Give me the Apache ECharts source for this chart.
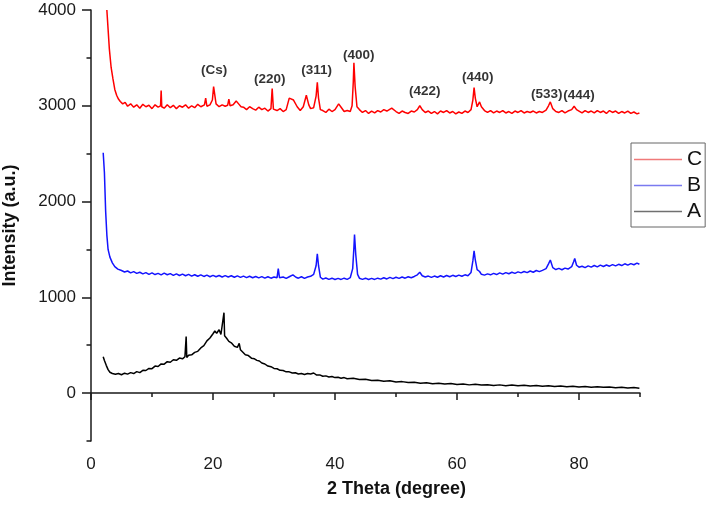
<!DOCTYPE html>
<html>
<head>
<meta charset="utf-8">
<title>XRD</title>
<script src="https://cdn.jsdelivr.net/npm/echarts@6.0.0/dist/echarts.min.js"></script>
<style>
  html, body { margin: 0; padding: 0; background: #fff; }
  #chart { width: 709px; height: 507px; }
</style>
</head>
<body>
<div id="chart"></div>
<script>
/* XRD patterns, values: [2theta, intensity] */

var sampleC = [
    [2.6,4000],[2.8,3800],[3.0,3600],[3.3,3400],[3.6,3280],[3.9,3170],[4.2,3110],[4.5,3070],[4.8,3045],[5.2,3020],
    [5.6,3035],[6.0,2995],[6.5,3020],[7.0,2985],[7.5,3010],[8.0,2975],[8.5,3015],[9.0,2990],[9.5,3005],[10.0,2970],
    [10.5,3010],[11.0,2985],[11.4,3000],[11.5,3160],[11.6,2990],[12.0,2975],[12.5,3010],[13.0,2980],[13.5,3005],[14.0,2970],
    [14.5,3000],[15.0,2985],[15.5,3010],[16.0,2975],[16.5,3000],[17.0,2980],[17.5,3015],[18.0,2990],[18.6,3010],[18.8,3080],
    [19.0,2995],[19.5,3010],[19.9,3060],[20.1,3200],[20.3,3180],[20.5,3020],[21.0,2990],[21.5,3010],[22.0,2995],[22.4,3005],
    [22.6,3070],[22.8,3000],[23.3,3010],[23.8,3050],[24.2,3020],[24.6,2990],[25.0,2985],[25.5,2960],[26.0,2990],[26.5,2970],
    [27.0,2955],[27.5,2985],[28.0,2960],[28.5,2975],[29.0,2945],[29.5,2970],[29.7,3180],[29.9,2965],[30.5,2950],[31.0,2970],
    [31.5,2940],[32.0,2960],[32.5,3080],[32.8,3100],[33.2,3060],[33.8,2990],[34.3,2950],[34.8,2990],[35.3,3110],[35.7,3010],
    [36.0,2970],[36.5,2980],[36.9,3100],[37.1,3245],[37.3,3080],[37.6,2960],[38.0,2950],[38.5,2930],[39.0,2965],[39.5,2940],
    [40.0,2960],[40.6,3020],[41.0,2985],[41.5,2940],[42.0,2950],[42.5,2940],[42.8,3000],[43.0,3250],[43.1,3450],[43.3,3200],
    [43.6,2990],[44.0,2960],[44.5,2930],[45.0,2950],[45.5,2920],[46.0,2945],[46.5,2925],[47.0,2950],[47.5,2935],[48.0,2960],
    [48.5,2945],[49.3,2975],[50.0,2940],[50.5,2920],[51.0,2945],[51.5,2930],[52.0,2920],[52.5,2945],[53.0,2935],[53.5,2960],
    [53.9,3000],[54.3,2960],[54.8,2930],[55.3,2945],[55.8,2920],[56.3,2940],[56.8,2915],[57.3,2945],[57.8,2930],[58.3,2950],
    [58.8,2925],[59.3,2940],[59.8,2915],[60.3,2935],[60.8,2920],[61.3,2945],[61.8,2930],[62.3,2960],[62.6,3060],[62.8,3190],
    [63.0,3080],[63.3,2990],[63.7,3040],[64.0,2990],[64.5,2950],[65.0,2930],[65.5,2950],[66.0,2925],[66.5,2945],[67.0,2930],
    [67.5,2950],[68.0,2925],[68.5,2940],[69.0,2920],[69.5,2945],[70.0,2930],[70.5,2950],[71.0,2925],[71.5,2940],[72.0,2930],
    [72.5,2945],[73.0,2925],[73.5,2940],[74.0,2930],[74.6,2955],[75.0,3000],[75.3,3040],[75.7,2970],[76.2,2940],[76.7,2930],
    [77.2,2950],[77.7,2925],[78.2,2945],[78.8,2960],[79.2,2995],[79.6,2960],[80.0,2945],[80.5,2925],[81.0,2950],[81.5,2930],
    [82.0,2945],[82.5,2925],[83.0,2950],[83.5,2930],[84.0,2945],[84.5,2920],[85.0,2950],[85.5,2930],[86.0,2945],[86.5,2920],
    [87.0,2940],[87.5,2925],[88.0,2945],[88.5,2920],[89.0,2935],[89.5,2915],[89.9,2925]
];

var sampleB = [
    [2.0,2510],[2.2,2300],[2.4,1900],[2.6,1650],[2.8,1500],[3.1,1420],[3.5,1360],[3.9,1320],[4.4,1295],[5.0,1280],
    [5.5,1265],[6.0,1275],[6.5,1255],[7.0,1268],[7.5,1250],[8.0,1262],[8.5,1245],[9.0,1258],[9.5,1240],[10.0,1255],
    [10.5,1238],[11.0,1250],[11.5,1235],[12.0,1252],[12.5,1236],[13.0,1248],[13.5,1230],[14.0,1245],[14.5,1228],[15.0,1242],
    [15.5,1225],[16.0,1240],[16.5,1222],[17.0,1236],[17.5,1220],[18.0,1235],[18.5,1218],[19.0,1232],[19.5,1215],[20.0,1230],
    [20.5,1215],[21.0,1228],[21.5,1212],[22.0,1226],[22.5,1212],[23.0,1225],[23.5,1210],[24.0,1224],[24.5,1208],[25.0,1222],
    [25.5,1206],[26.0,1220],[26.5,1205],[27.0,1218],[27.5,1203],[28.0,1216],[28.5,1200],[29.0,1215],[29.5,1200],[30.0,1212],
    [30.5,1205],[30.7,1300],[30.9,1205],[31.5,1212],[32.0,1198],[32.5,1215],[33.1,1235],[33.6,1210],[34.0,1200],[34.5,1215],
    [35.0,1198],[35.5,1212],[36.0,1220],[36.5,1240],[36.9,1330],[37.1,1455],[37.3,1330],[37.6,1210],[38.0,1190],[38.5,1202],
    [39.0,1188],[39.5,1200],[40.0,1186],[40.5,1198],[41.0,1187],[41.5,1200],[42.0,1188],[42.5,1205],[42.9,1300],[43.1,1520],
    [43.2,1655],[43.4,1450],[43.7,1240],[44.0,1200],[44.5,1188],[45.0,1200],[45.5,1186],[46.0,1198],[46.5,1187],[47.0,1200],
    [47.5,1190],[48.0,1205],[48.5,1192],[49.0,1208],[49.5,1195],[50.0,1210],[50.5,1198],[51.0,1212],[51.5,1200],[52.0,1215],
    [52.5,1205],[53.0,1218],[53.5,1235],[53.9,1262],[54.3,1225],[54.8,1212],[55.3,1222],[55.8,1208],[56.3,1222],[56.8,1210],
    [57.3,1225],[57.8,1212],[58.3,1228],[58.8,1215],[59.3,1230],[59.8,1218],[60.3,1232],[60.8,1220],[61.3,1235],[61.8,1225],
    [62.3,1260],[62.6,1380],[62.8,1485],[63.0,1390],[63.3,1290],[63.7,1270],[64.0,1240],[64.5,1232],[65.0,1245],[65.5,1235],
    [66.0,1250],[66.5,1238],[67.0,1255],[67.5,1242],[68.0,1258],[68.5,1246],[69.0,1262],[69.5,1250],[70.0,1266],[70.5,1255],
    [71.0,1270],[71.5,1258],[72.0,1275],[72.5,1262],[73.0,1280],[73.5,1268],[74.0,1282],[74.6,1300],[75.0,1350],[75.3,1390],
    [75.7,1310],[76.2,1290],[76.7,1302],[77.2,1288],[77.7,1305],[78.2,1295],[78.8,1320],[79.1,1370],[79.3,1405],[79.6,1335],
    [80.0,1315],[80.5,1325],[81.0,1310],[81.5,1328],[82.0,1315],[82.5,1332],[83.0,1318],[83.5,1336],[84.0,1322],[84.5,1338],
    [85.0,1325],[85.5,1342],[86.0,1328],[86.5,1345],[87.0,1332],[87.5,1350],[88.0,1336],[88.5,1352],[89.0,1340],[89.5,1358],
    [89.9,1345]
];

var sampleA = [
    [2.0,380],[2.2,340],[2.5,290],[2.8,245],[3.1,218],[3.5,205],[4.0,196],[4.5,205],[5.0,192],[5.5,208],
    [6.0,198],[6.5,214],[7.0,204],[7.5,224],[8.0,214],[8.5,238],[9.0,236],[9.5,258],[10.0,255],[10.5,282],
    [11.0,278],[11.5,305],[12.0,302],[12.5,328],[13.0,322],[13.5,348],[14.0,342],[14.5,366],[15.0,358],[15.4,380],
    [15.6,590],[15.7,372],[16.0,395],[16.5,400],[17.0,425],[17.5,436],[18.0,472],[18.5,495],[19.0,545],[19.5,575],
    [20.0,620],[20.3,648],[20.6,625],[21.0,662],[21.3,612],[21.6,605],[21.8,840],[21.9,598],[22.2,575],[22.6,540],
    [23.0,525],[23.5,490],[24.0,478],[24.3,520],[24.5,452],[24.8,438],[25.3,400],[25.8,392],[26.3,365],[26.8,358],
    [27.0,378],[27.2,342],[27.6,335],[28.0,314],[28.5,304],[29.0,282],[29.5,276],[30.0,258],[30.5,254],[31.0,238],
    [31.5,236],[32.0,222],[32.5,222],[33.0,210],[33.5,212],[34.0,200],[34.5,204],[35.0,194],[35.5,204],[36.0,200],
    [36.5,210],[37.0,188],[37.5,190],[38.0,176],[38.5,180],[39.0,168],[39.5,174],[40.0,162],[40.5,166],[41.0,156],
    [41.5,162],[42.0,150],[43.0,154],[44.0,142],[45.0,144],[46.0,132],[47.0,134],[48.0,124],[49.0,128],[50.0,116],
    [51.0,120],[52.0,110],[53.0,114],[54.0,104],[55.0,108],[56.0,98],[57.0,104],[58.0,94],[59.0,100],[60.0,90],
    [61.0,96],[62.0,86],[63.0,92],[64.0,84],[65.0,88],[66.0,80],[67.0,86],[68.0,78],[69.0,84],[70.0,76],
    [71.0,82],[72.0,74],[73.0,80],[74.0,72],[75.0,76],[76.0,68],[77.0,74],[78.0,66],[79.0,72],[80.0,64],
    [81.0,70],[82.0,62],[83.0,66],[84.0,60],[85.0,64],[86.0,56],[87.0,62],[88.0,54],[89.0,58],[89.9,52]
];

// peak labels over curve C
var peakNames = ['(Cs)', '(220)', '(311)', '(400)', '(422)', '(440)', '(533)', '(444)'];
var peakX = [20.2, 29.3, 37.0, 43.9, 54.7, 63.4, 74.7, 80.0];
var peakY = [3370, 3280, 3375, 3525, 3150, 3300, 3125, 3105];

var xMajor = [0, 20, 40, 60, 80];
var xMinor = [10, 30, 50, 70, 90];
var yMajor = [0, 1000, 2000, 3000, 4000];
var yMinor = [-500, 500, 1500, 2500, 3500];

var FONT = '"Liberation Sans", Arial, Helvetica, sans-serif';
var AXIS_COLOR = '#1a1a1a';

var peakData = [];
for (var i = 0; i < peakNames.length; i++) {
    peakData.push({name: peakNames[i], value: [peakX[i], peakY[i]]});
}

function plain(v) {
    return String(v);
}

var myChart = echarts.init(document.getElementById('chart'));

var option = {
    animation: false,
    backgroundColor: '#fff',
    grid: {left: 91, right: 69, top: 10, bottom: 66, containLabel: false, outerBoundsMode: 'none'},
    legend: {
        data: [
            {name: 'C', itemStyle: {color: '#f07a7a'}},
            {name: 'B', itemStyle: {color: '#7a7af0'}},
            {name: 'A', itemStyle: {color: '#707070'}}
        ],
        orient: 'vertical',
        left: 631,
        top: 143,
        padding: [6, 3, 5, 3],
        itemGap: 5,
        itemWidth: 48,
        itemHeight: 1.5,
        icon: 'rect',
        borderColor: '#666',
        borderWidth: 1,
        backgroundColor: '#fff',
        textStyle: {fontFamily: FONT, fontSize: 21, color: '#111'}
    },
    xAxis: [
        {
            type: 'value', min: 0, max: 90,
            name: '2 Theta (degree)',
            nameLocation: 'middle',
            nameGap: 39,
            nameTextStyle: {fontFamily: FONT, fontSize: 18, fontWeight: 'bold', color: '#111', padding: [0, 0, 0, 62]},
            axisLine: {lineStyle: {color: AXIS_COLOR, width: 1.5}},
            axisTick: {customValues: xMajor, length: 7, lineStyle: {color: AXIS_COLOR, width: 1.5}},
            axisLabel: {customValues: xMajor, formatter: plain, margin: 15, fontFamily: FONT, fontSize: 17, color: '#1a1a1a'},
            splitLine: {show: false}
        },
        {
            type: 'value', min: 0, max: 90, position: 'bottom',
            axisLine: {show: false},
            axisTick: {customValues: xMinor, length: 4, lineStyle: {color: AXIS_COLOR, width: 1.5}},
            axisLabel: {show: false},
            splitLine: {show: false}
        }
    ],
    yAxis: [
        {
            type: 'value', min: -500, max: 4000,
            name: 'Intensity (a.u.)',
            nameLocation: 'middle',
            nameGap: 72,
            nameTextStyle: {fontFamily: FONT, fontSize: 18, fontWeight: 'bold', color: '#111'},
            axisLine: {show: true, lineStyle: {color: AXIS_COLOR, width: 1.5}},
            axisTick: {show: true, customValues: yMajor, length: 9, lineStyle: {color: AXIS_COLOR, width: 1.5}},
            axisLabel: {customValues: yMajor, formatter: plain, margin: 15, fontFamily: FONT, fontSize: 17, color: '#1a1a1a'},
            splitLine: {show: false}
        },
        {
            type: 'value', min: -500, max: 4000, position: 'left',
            axisLine: {show: false},
            axisTick: {show: true, customValues: yMinor, length: 4.5, lineStyle: {color: AXIS_COLOR, width: 1.5}},
            axisLabel: {show: false},
            splitLine: {show: false}
        }
    ],
    series: [
        {
            name: 'C', type: 'line', data: sampleC,
            showSymbol: false, symbol: 'none',
            lineStyle: {color: '#ff0000', width: 1.5},
            itemStyle: {color: '#ff0000'}
        },
        {
            name: 'B', type: 'line', data: sampleB,
            showSymbol: false, symbol: 'none',
            lineStyle: {color: '#1414ff', width: 1.5},
            itemStyle: {color: '#1414ff'}
        },
        {
            name: 'A', type: 'line', data: sampleA,
            showSymbol: false, symbol: 'none',
            lineStyle: {color: '#000', width: 1.5},
            itemStyle: {color: '#000'}
        },
        {
            name: 'peaks', type: 'scatter', data: peakData,
            symbolSize: 1,
            itemStyle: {color: 'rgba(0,0,0,0)'},
            label: {
                show: true, position: 'inside', formatter: '{b}',
                fontFamily: FONT, fontSize: 13.5, fontWeight: 'bold', color: '#000',
                textBorderWidth: 0
            },
            silent: true
        }
    ]
};
myChart.setOption(option);
</script>
</body>
</html>
